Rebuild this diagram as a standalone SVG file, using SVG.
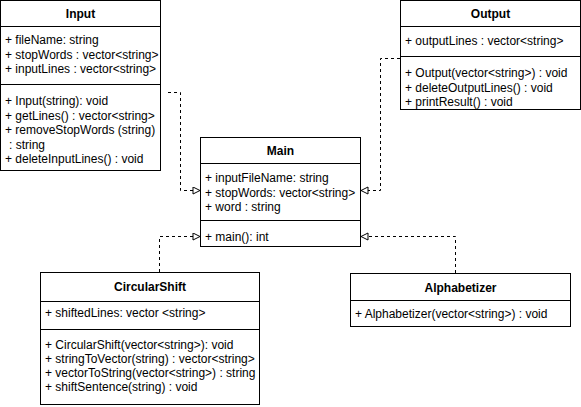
<svg xmlns="http://www.w3.org/2000/svg" width="581" height="407" viewBox="0 0 581 407">
<style>
.box{fill:#fff;stroke:#000;stroke-width:1}
.ln{stroke:#000;stroke-width:1;fill:none}
.t{font-family:"Liberation Sans",Arial,Helvetica,sans-serif;font-size:12px;fill:#000}
.h{font-family:"Liberation Sans",Arial,Helvetica,sans-serif;font-size:12px;font-weight:bold;fill:#000;text-anchor:middle}
.e{stroke:#000;stroke-width:1;fill:none;stroke-dasharray:3 3;marker-end:url(#tri)}
</style>
<defs>
<marker id="tri" markerWidth="10" markerHeight="10" refX="8" refY="4" orient="auto" markerUnits="userSpaceOnUse">
<path d="M1,0.5 L8,4 L1,7.5 Z" fill="#fff" stroke="#000" stroke-width="1"/>
</marker>
</defs>
<g id="connectors">
<path class="e" d="M168 92.5 H180.5 V190.5 H200"/>
<path class="e" d="M400 58.5 H380.5 V190.5 H361"/>
<path class="e" d="M159.5 272 V236.5 H200"/>
<path class="e" d="M455.5 273 V236.5 H361"/>
</g>
<g id="Input">
<rect class="box" x="0.5" y="0.5" width="160" height="170"/>
<line class="ln" x1="0.5" y1="26.5" x2="160.5" y2="26.5"/>
<line class="ln" x1="0.5" y1="84.5" x2="160.5" y2="84.5"/>
<text class="h" x="80.5" y="18">Input</text>
<text class="t" x="5" y="44">+ fileName: string</text>
<text class="t" x="5" y="58.5">+ stopWords : vector&lt;string&gt;</text>
<text class="t" x="5" y="73">+ inputLines : vector&lt;string&gt;</text>
<text class="t" x="5" y="105">+ Input(string): void</text>
<text class="t" x="5" y="119.5">+ getLines() : vector&lt;string&gt;</text>
<text class="t" x="5" y="134">+ removeStopWords (string)</text>
<text class="t" x="9" y="148.5">: string</text>
<text class="t" x="5" y="163">+ deleteInputLines() : void</text>
</g>
<g id="Output">
<rect class="box" x="400.5" y="0.5" width="180" height="109"/>
<line class="ln" x1="400.5" y1="26.5" x2="580.5" y2="26.5"/>
<line class="ln" x1="400.5" y1="56.5" x2="580.5" y2="56.5"/>
<text class="h" x="490.5" y="18">Output</text>
<text class="t" x="405" y="45">+ outputLines : vector&lt;string&gt;</text>
<text class="t" x="405" y="77">+ Output(vector&lt;string&gt;) : void</text>
<text class="t" x="405" y="91.5">+ deleteOutputLines() : void</text>
<text class="t" x="405" y="106">+ printResult() : void</text>
</g>
<g id="Main">
<rect class="box" x="200.5" y="137.5" width="160" height="109"/>
<line class="ln" x1="200.5" y1="163.5" x2="360.5" y2="163.5"/>
<line class="ln" x1="200.5" y1="220.5" x2="360.5" y2="220.5"/>
<text class="h" x="280.5" y="155">Main</text>
<text class="t" x="205" y="182">+ inputFileName: string</text>
<text class="t" x="205" y="196.5">+ stopWords: vector&lt;string&gt;</text>
<text class="t" x="205" y="211">+ word : string</text>
<text class="t" x="205" y="241">+ main(): int</text>
</g>
<g id="CircularShift">
<rect class="box" x="40.5" y="272.5" width="219" height="132"/>
<line class="ln" x1="40.5" y1="301.5" x2="259.5" y2="301.5"/>
<line class="ln" x1="40.5" y1="329.5" x2="259.5" y2="329.5"/>
<text class="h" x="150" y="291">CircularShift</text>
<text class="t" x="45" y="317">+ shiftedLines: vector &lt;string&gt;</text>
<text class="t" x="45" y="349">+ CircularShift(vector&lt;string&gt;): void</text>
<text class="t" x="45" y="363">+ stringToVector(string) : vector&lt;string&gt;</text>
<text class="t" x="45" y="377">+ vectorToString(vector&lt;string&gt;) : string</text>
<text class="t" x="45" y="391">+ shiftSentence(string) : void</text>
</g>
<g id="Alphabetizer">
<rect class="box" x="350.5" y="273.5" width="220" height="53"/>
<line class="ln" x1="350.5" y1="300.5" x2="570.5" y2="300.5"/>
<text class="h" x="460.5" y="292">Alphabetizer</text>
<text class="t" x="355" y="318">+ Alphabetizer(vector&lt;string&gt;) : void</text>
</g>
</svg>
